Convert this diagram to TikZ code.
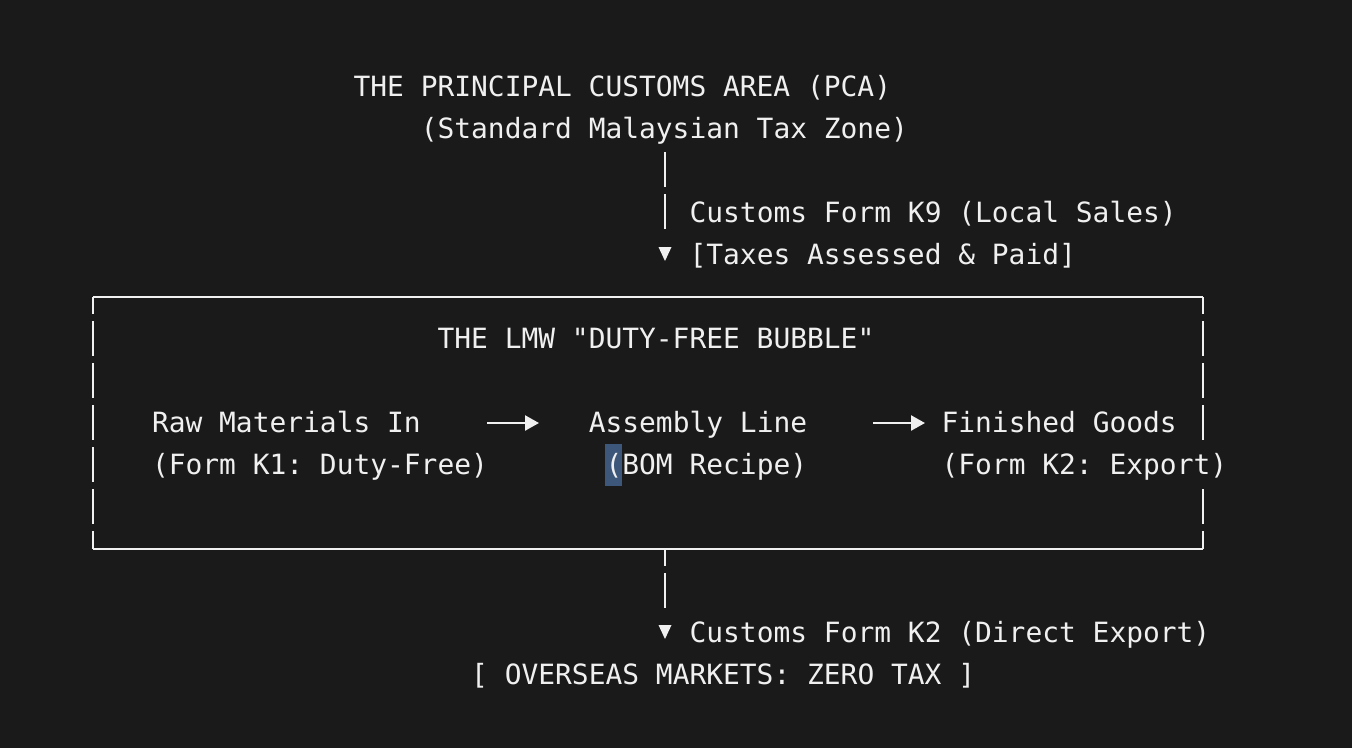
\documentclass[tikz,border=0pt]{standalone}
\usepackage{fontspec}
\setmonofont{DejaVu Sans Mono}
\usetikzlibrary{arrows.meta}
\definecolor{bg}{RGB}{26,26,26}
\definecolor{fg}{RGB}{240,240,240}
\definecolor{sel}{RGB}{60,87,122}
\begin{document}
\begin{tikzpicture}[x=1pt,y=-1pt,
  txt/.style={anchor=base west,inner sep=0pt,text=fg,font=\ttfamily\fontsize{27.9}{33}\selectfont},
  bar/.style={draw=fg,line width=2.4pt,dash pattern=on 35pt off 7pt},
  edge/.style={draw=fg,line width=2.4pt},
  flow/.style={draw=fg,line width=2.4pt,-{Triangle[length=14pt,width=15pt]}},
  tri/.style={fill=fg}]
\fill[bg] (0,0) rectangle (1352,748);
\useasboundingbox (0,0) rectangle (1352,748);
% selection highlight
\fill[sel] (605.4,444) rectangle (622.2,486);
% texts
\node[txt] (pca) at (353.4,96) {THE PRINCIPAL CUSTOMS AREA (PCA)};
\node[txt] (pcasub) at (420.6,138) {(Standard Malaysian Tax Zone)};
\node[txt] (k9) at (689.4,222) {Customs Form K9 (Local Sales)};
\node[txt] (taxes) at (689.4,264) {[Taxes Assessed \& Paid]};
\node[txt] (lmw) at (437.4,348) {THE LMW "DUTY-FREE BUBBLE"};
\node[txt] (raw) at (151.8,432) {Raw Materials In};
\node[txt] (rawsub) at (151.8,474) {(Form K1: Duty-Free)};
\node[txt] (asm) at (588.6,432) {Assembly Line};
\node[txt] (asmsub) at (605.4,474) {(BOM Recipe)};
\node[txt] (fin) at (941.4,432) {Finished Goods};
\node[txt] (finsub) at (941.4,474) {(Form K2: Export)};
\node[txt] (k2) at (689.4,642) {Customs Form K2 (Direct Export)};
\node[txt] (over) at (471.0,684) {[ OVERSEAS MARKETS: ZERO TAX ]};
% box
\coordinate (tl) at (93,297);
\coordinate (tr) at (1203,297);
\coordinate (bl) at (93,549);
\coordinate (br) at (1203,549);
\draw[edge] (tl) -- (tr);
\draw[edge] (bl) -- (br);
\draw[bar,dash phase=18pt] (tl) -- (bl);
\coordinate (rgapa) at (1203,440);
\coordinate (rgapb) at (1203,489);
\draw[bar,dash phase=18pt] (tr) -- (rgapa);
\draw[bar] (rgapb) -- (br);
% top connector
\coordinate (ta) at (665,152);
\coordinate (tb) at (665,230);
\draw[bar] (ta) -- (tb);
\fill[tri] (658.5,247) -- (671.5,247) -- (665,261) -- cycle;
% bottom connector
\coordinate (ba) at (665,549);
\coordinate (bb) at (665,608);
\draw[bar,dash phase=18pt] (ba) -- (bb);
\fill[tri] (658.5,625) -- (671.5,625) -- (665,639) -- cycle;
% flow arrows
\coordinate (a1s) at (487,423);
\coordinate (a1e) at (539,423);
\coordinate (a2s) at (873,423);
\coordinate (a2e) at (925,423);
\draw[flow] (a1s) -- (a1e);
\draw[flow] (a2s) -- (a2e);
\end{tikzpicture}
\end{document}
